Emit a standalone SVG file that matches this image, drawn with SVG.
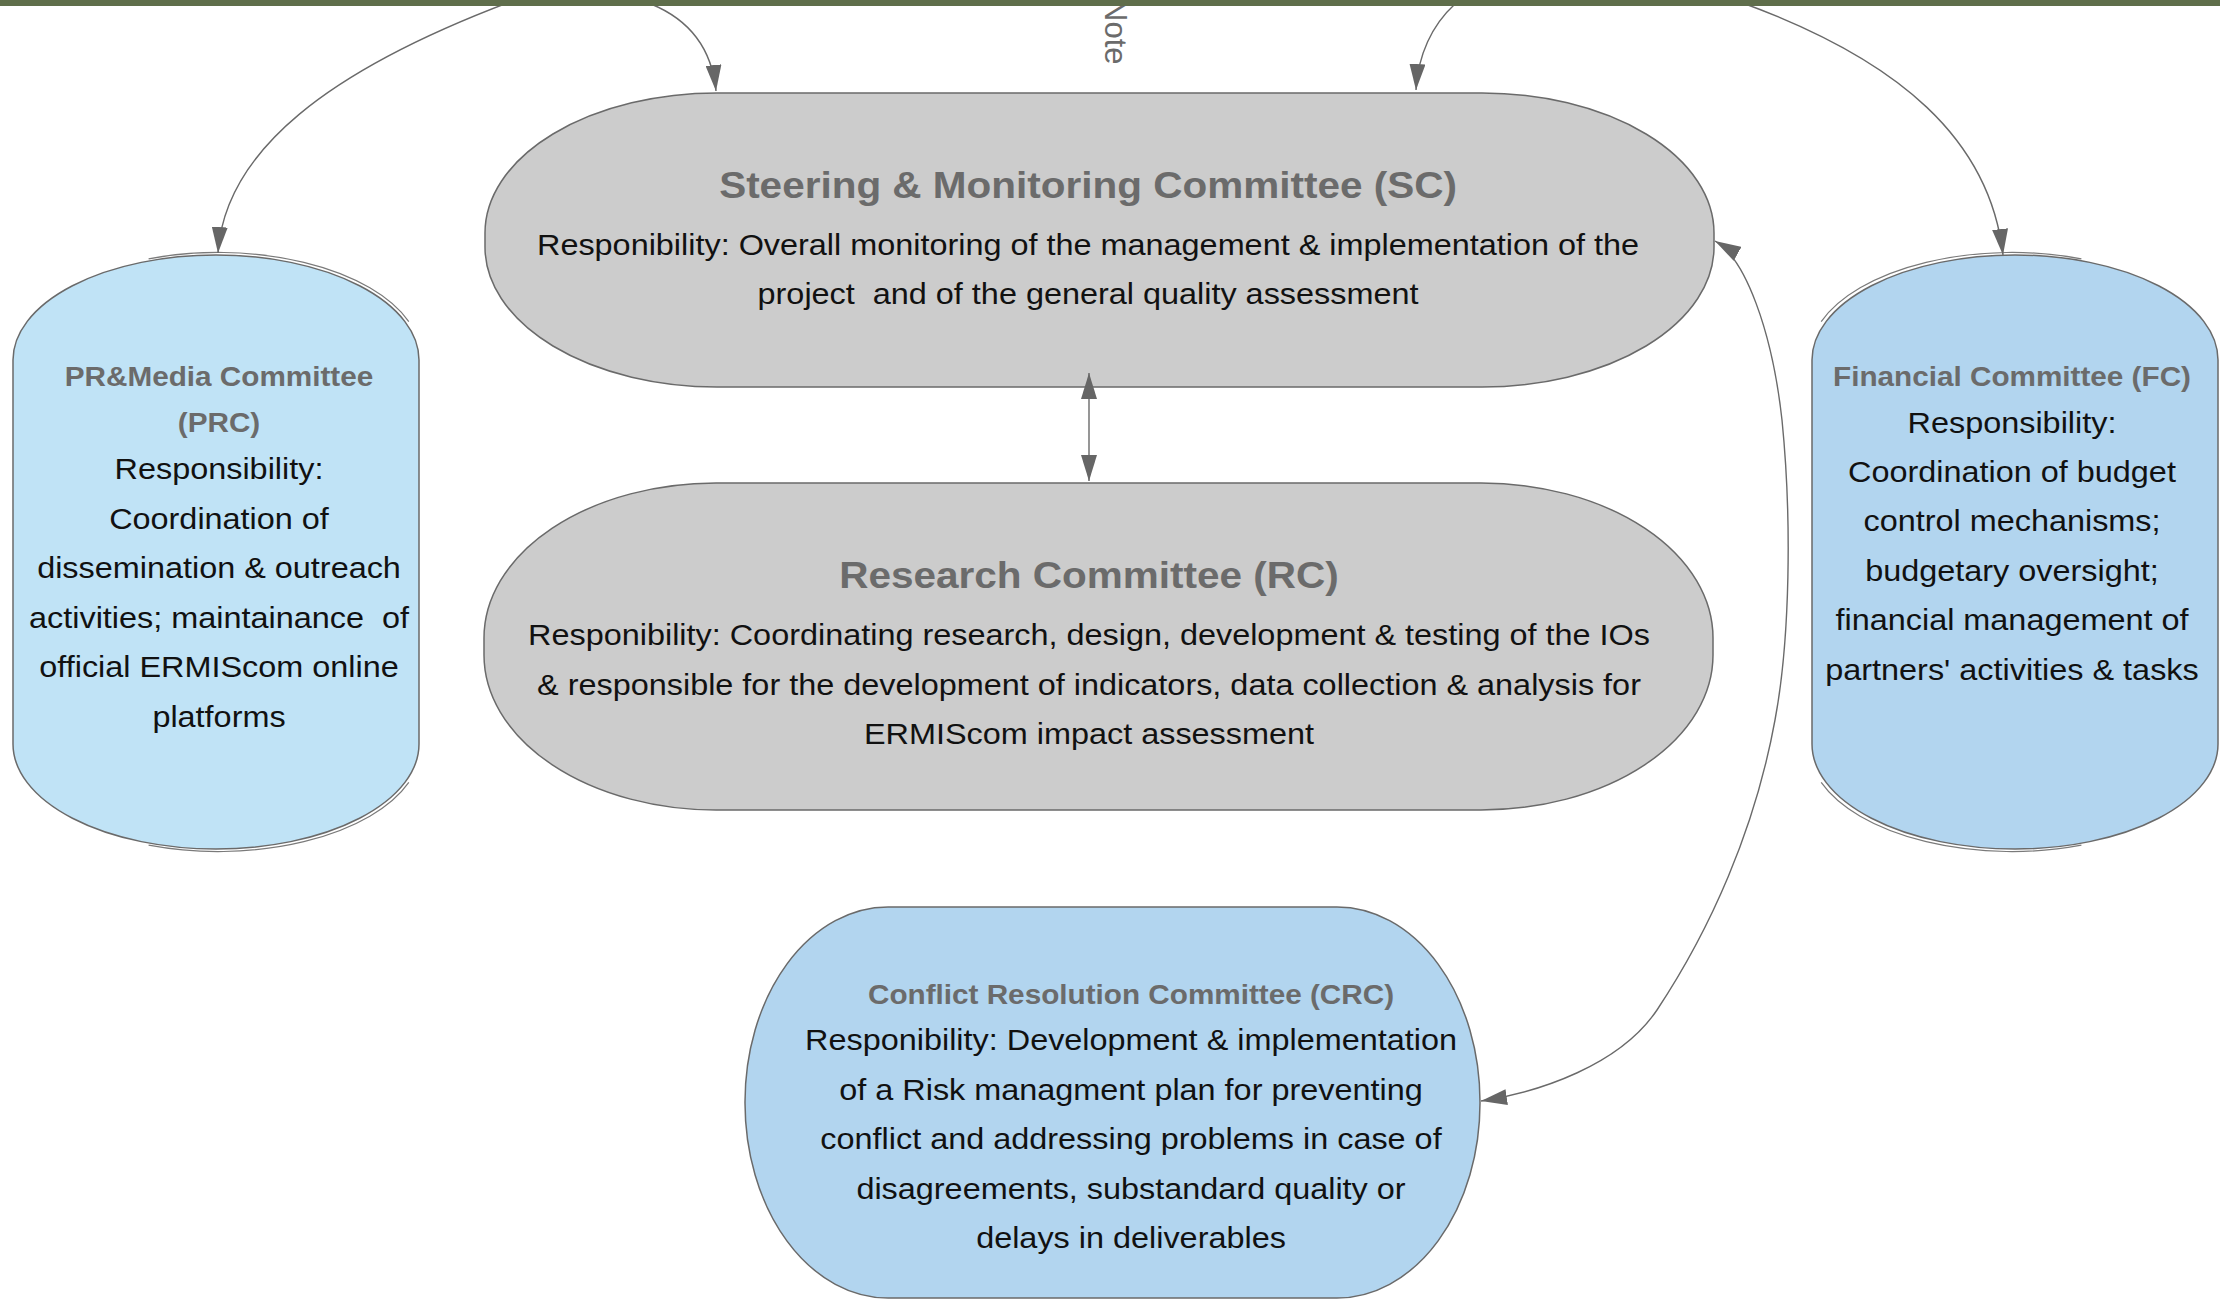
<svg xmlns="http://www.w3.org/2000/svg" width="2220" height="1300" viewBox="0 0 2220 1300">
  <style>
    .grey { fill: #cccccc; stroke: #6a6a6a; stroke-width: 1.5; }
    .blue1 { fill: #c0e3f6; stroke: #6a6a6a; stroke-width: 1.5; }
    .blue2 { fill: #b2d5ef; stroke: #6a6a6a; stroke-width: 1.5; }
    .shadow { fill: none; stroke: #7a7a7a; stroke-width: 1.2; }
    .big { font-family: "Liberation Sans", Arial, sans-serif; font-weight: bold; font-size: 37.5px; fill: #6b6b6b; text-anchor: middle; }
    .small { font-family: "Liberation Sans", Arial, sans-serif; font-weight: bold; font-size: 27.5px; fill: #6b6b6b; text-anchor: middle; }
    .body { font-family: "Liberation Sans", Arial, sans-serif; font-size: 30px; fill: #111111; text-anchor: middle; }
    .note { font-family: "Liberation Sans", Arial, sans-serif; font-size: 31px; fill: #6b6b6b; }
    .conn { fill: none; stroke: #6a6a6a; stroke-width: 1.4; }
  </style>
  <defs>
    <marker id="arrow" viewBox="0 0 26 16" refX="26" refY="8" markerWidth="26" markerHeight="16" markerUnits="userSpaceOnUse" orient="auto-start-reverse">
      <path d="M0,0 L26,8 L0,16 Z" fill="#666666"/>
    </marker>
  </defs>
  <rect x="0" y="0" width="2220" height="1300" fill="#ffffff"/>

  <g id="note">
    <text class="note" transform="translate(1105 -1) rotate(90)">Note</text>
  </g>

  <g id="node-sc">
    <rect class="grey" x="485" y="93" width="1229" height="294" rx="232" ry="140"/>
    <text class="big" transform="translate(1088 198) scale(1.08 1)">Steering &amp; Monitoring Committee (SC)</text>
    <text class="body" transform="translate(1088 254.5) scale(1.08 1)">Responibility: Overall monitoring of the management &amp; implementation of the</text>
    <text class="body" xml:space="preserve" transform="translate(1088 303.5) scale(1.08 1)">project  and of the general quality assessment</text>
  </g>

  <g id="node-rc">
    <rect class="grey" x="484" y="483" width="1229" height="327" rx="232" ry="155"/>
    <text class="big" transform="translate(1089 588) scale(1.08 1)">Research Committee (RC)</text>
    <text class="body" transform="translate(1089 645) scale(1.08 1)">Responibility: Coordinating research, design, development &amp; testing of the IOs</text>
    <text class="body" transform="translate(1089 694.5) scale(1.08 1)">&amp; responsible for the development of indicators, data collection &amp; analysis for</text>
    <text class="body" transform="translate(1089 744) scale(1.08 1)">ERMIScom impact assessment</text>
  </g>

  <g id="node-prc">
    <path class="shadow" d="M148.6,258.8 A203 105 0 0 1 408.8 321.6"/>
    <path class="shadow" d="M408.8,782.4 A203 105 0 0 1 148.6 845.2"/>
    <rect class="blue1" x="13" y="255" width="406" height="594" rx="203" ry="105"/>
    <text class="small" transform="translate(219 386) scale(1.08 1)">PR&amp;Media Committee</text>
    <text class="small" transform="translate(219 432) scale(1.08 1)">(PRC)</text>
    <text class="body" transform="translate(219 479) scale(1.08 1)">Responsibility:</text>
    <text class="body" transform="translate(219 528.5) scale(1.08 1)">Coordination of</text>
    <text class="body" transform="translate(219 578) scale(1.08 1)">dissemination &amp; outreach</text>
    <text class="body" xml:space="preserve" transform="translate(219 627.5) scale(1.08 1)">activities; maintainance  of</text>
    <text class="body" transform="translate(219 677) scale(1.08 1)">official ERMIScom online</text>
    <text class="body" transform="translate(219 726.5) scale(1.08 1)">platforms</text>
  </g>

  <g id="node-fc">
    <path class="shadow" d="M1821.2,321.6 A203 105 0 0 1 2081.4 258.8"/>
    <path class="shadow" d="M2081.4,845.2 A203 105 0 0 1 1821.2 782.4"/>
    <rect class="blue2" x="1812" y="255" width="406" height="594" rx="203" ry="105"/>
    <text class="small" transform="translate(2012 386) scale(1.08 1)">Financial Committee (FC)</text>
    <text class="body" transform="translate(2012 432.5) scale(1.08 1)">Responsibility:</text>
    <text class="body" transform="translate(2012 482) scale(1.08 1)">Coordination of budget</text>
    <text class="body" transform="translate(2012 531) scale(1.08 1)">control mechanisms;</text>
    <text class="body" transform="translate(2012 580.5) scale(1.08 1)">budgetary oversight;</text>
    <text class="body" transform="translate(2012 630) scale(1.08 1)">financial management of</text>
    <text class="body" transform="translate(2012 679.5) scale(1.08 1)">partners' activities &amp; tasks</text>
  </g>

  <g id="node-crc">
    <rect class="blue2" x="745" y="907" width="735" height="391" rx="143" ry="195"/>
    <text class="small" transform="translate(1131 1004) scale(1.08 1)">Conflict Resolution Committee (CRC)</text>
    <text class="body" transform="translate(1131 1050) scale(1.08 1)">Responibility: Development &amp; implementation</text>
    <text class="body" transform="translate(1131 1099.5) scale(1.08 1)">of a Risk managment plan for preventing</text>
    <text class="body" transform="translate(1131 1149) scale(1.08 1)">conflict and addressing problems in case of</text>
    <text class="body" transform="translate(1131 1198.5) scale(1.08 1)">disagreements, substandard quality or</text>
    <text class="body" transform="translate(1131 1248) scale(1.08 1)">delays in deliverables</text>
  </g>

  <g id="connectors">
    <path class="conn" d="M510,2 C330,70 225,150 218,253" marker-end="url(#arrow)"/>
    <path class="conn" d="M651,4 C690,20 712,50 716,91" marker-end="url(#arrow)"/>
    <path class="conn" d="M1455,4 C1432,25 1418,55 1416,90" marker-end="url(#arrow)"/>
    <path class="conn" d="M1740,2 C1900,60 1990,140 2003,255" marker-end="url(#arrow)"/>
    <path class="conn" d="M1089,373 L1089,481" marker-start="url(#arrow)" marker-end="url(#arrow)"/>
    <path class="conn" d="M1715,241 C1745,258 1772,330 1782,420 C1792,520 1790,640 1775,720 C1755,830 1710,930 1657,1010 C1620,1065 1540,1092 1481,1101" marker-start="url(#arrow)" marker-end="url(#arrow)"/>
  </g>

  <g id="topbar">
    <rect x="0" y="0" width="2220" height="6" fill="#5f6e4b"/>
  </g>
</svg>
